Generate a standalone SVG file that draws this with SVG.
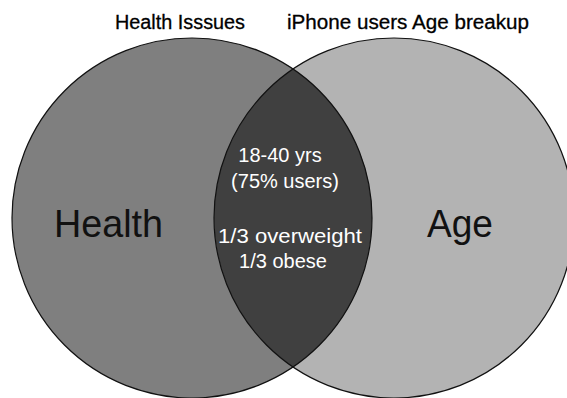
<svg xmlns="http://www.w3.org/2000/svg" width="567" height="398" viewBox="0 0 567 398">
  <style>
    .lbl { font-family: "Liberation Sans", Arial, sans-serif; fill: #111; }
    .title { font-size: 20px; fill: #000; stroke: #000; stroke-width: 0.3; }
    .big { font-size: 39px; }
    .inner { font-family: "Liberation Sans", Arial, sans-serif; font-size: 20px; fill: #fff; text-anchor: middle; }
    .ring { fill: none; stroke: #111; stroke-width: 1.2; }
  </style>
  <defs>
    <clipPath id="clip-health">
      <circle cx="192" cy="218" r="180"/>
    </clipPath>
  </defs>
  <rect width="567" height="398" fill="#fff"/>

  <!-- the two sets -->
  <g id="health">
    <circle cx="192" cy="218" r="180" fill="#7f7f7f"/>
  </g>
  <g id="age">
    <circle cx="394" cy="218" r="180" fill="#b3b3b3"/>
  </g>
  <!-- shared region, darker -->
  <g id="overlap">
    <circle cx="394" cy="218" r="180" fill="#404040" clip-path="url(#clip-health)"/>
  </g>
  <g id="outlines">
    <circle class="ring" cx="192" cy="218" r="180"/>
    <circle class="ring" cx="394" cy="218" r="180"/>
  </g>

  <g id="titles">
    <text class="lbl title" x="115" y="29" textLength="130" lengthAdjust="spacingAndGlyphs">Health Isssues</text>
    <text class="lbl title" x="287" y="29" textLength="242" lengthAdjust="spacingAndGlyphs">iPhone users Age breakup</text>
  </g>
  <g id="labels">
    <text class="lbl big" x="54" y="237" textLength="109" lengthAdjust="spacingAndGlyphs">Health</text>
    <text class="lbl big" x="427" y="237" textLength="66" lengthAdjust="spacingAndGlyphs">Age</text>
  </g>
  <g id="overlap-text">
    <text class="inner" x="280" y="162">18-40 yrs</text>
    <text class="inner" x="285" y="188">(75% users)</text>
    <text class="inner" x="290" y="243" textLength="144" lengthAdjust="spacingAndGlyphs">1/3 overweight</text>
    <text class="inner" x="283" y="268">1/3 obese</text>
  </g>
</svg>
